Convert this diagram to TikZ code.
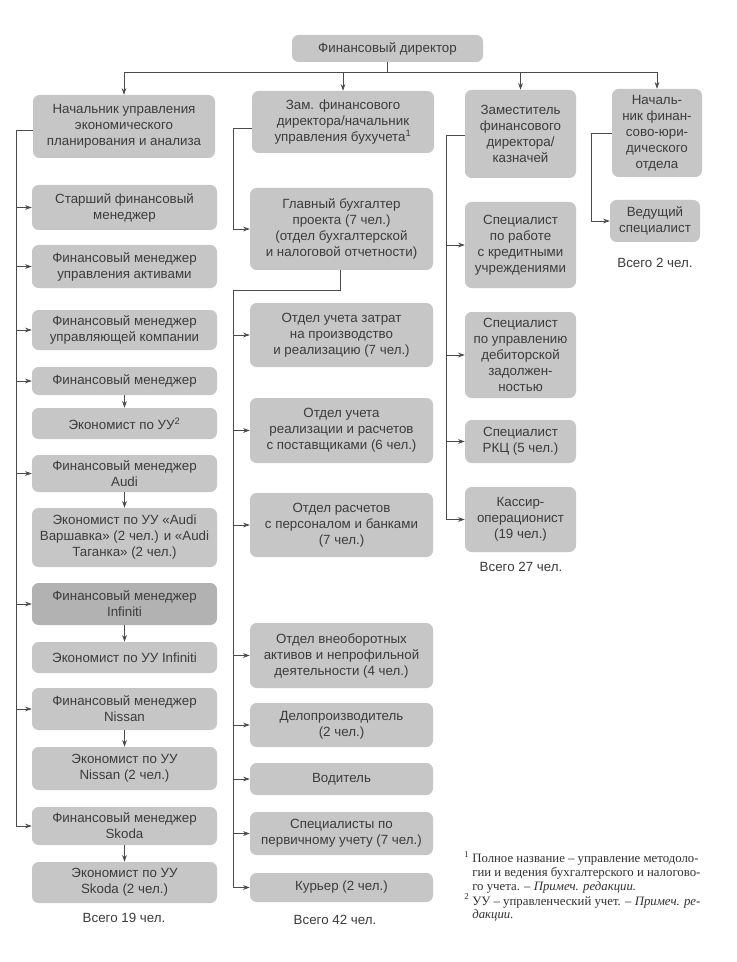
\documentclass[tikz,border=0pt]{standalone}
\usepackage{fontspec}
\setmainfont{Liberation Sans}
\newfontfamily\notefont{Liberation Serif}
\usetikzlibrary{arrows.meta}
\definecolor{boxgray}{RGB}{198,198,198}
\definecolor{boxdark}{RGB}{178,178,178}
\definecolor{txt}{RGB}{60,60,60}
\definecolor{ln}{RGB}{75,75,75}
\begin{document}
\begin{tikzpicture}[x=0.75pt,y=-0.75pt,
 box/.style={fill=boxgray, rounded corners=5pt, align=center, inner sep=1pt, text=txt, font=\fontsize{10}{12}\selectfont},
 sz/.style 2 args={minimum width=#1*0.75pt, minimum height=#2*0.75pt},
 conn/.style={draw=ln, line width=0.5pt},
 arr/.style={conn, -{Stealth[length=5pt,width=3.5pt]}},
 total/.style={text=txt, font=\fontsize{10}{12}\selectfont},
 note/.style={anchor=west, inner sep=0pt, text=txt!80!black, font=\notefont\fontsize{9.6}{11}\selectfont},
]
\useasboundingbox[fill=white] (0,0) rectangle (736,962);

% top
\node[box,sz={191}{27}] (dir) at (387.5,48.5) {Финансовый директор};
\node[box,sz={182}{63}] (a) at (124,126.5) {Начальник управления\\экономического\\планирования и анализа};
\node[box,sz={182}{62}] (b) at (343,122) {Зам. финансового\\директора/начальник\\управления бухучета\textsuperscript{1}};
\node[box,sz={111}{88}] (c) at (520.5,134) {Заместитель\\финансового\\директора/\\казначей};
\node[box,sz={90}{88}] (d) at (657,133) {Началь-\\ник финан-\\сово-юри-\\дического\\отдела};

\coordinate (bus) at (387.5,72);
\draw[conn] (dir.south) -- (bus);
\draw[conn] (bus -| a) -- (bus -| d);
\foreach \n in {a,b,c,d} \draw[arr] (bus -| \n) -- (\n.north);

% left column
\node[box,sz={185}{45}] (l1) at (124.5,207.5) {Старший финансовый\\менеджер};
\node[box,sz={185}{43}] (l2) at (124.5,266.5) {Финансовый менеджер\\управления активами};
\node[box,sz={185}{40}] (l3) at (124.5,330) {Финансовый менеджер\\управляющей компании};
\node[box,sz={185}{28}] (l4) at (124.5,381) {Финансовый менеджер};
\node[box,sz={185}{31}] (l5) at (124.5,423.5) {Экономист по УУ\textsuperscript{2}};
\node[box,sz={185}{37}] (l6) at (124.5,473.5) {Финансовый менеджер\\Audi};
\node[box,sz={185}{59}] (l7) at (124.5,537.5) {Экономист по УУ «Audi\\Варшавка» (2 чел.) и «Audi\\Таганка» (2 чел.)};
\node[box,sz={185}{42},fill=boxdark] (l8) at (124.5,604) {Финансовый менеджер\\Infiniti};
\node[box,sz={185}{31}] (l9) at (124.5,657.5) {Экономист по УУ Infiniti};
\node[box,sz={185}{42}] (l10) at (124.5,709) {Финансовый менеджер\\Nissan};
\node[box,sz={185}{43}] (l11) at (124.5,768.5) {Экономист по УУ\\Nissan (2 чел.)};
\node[box,sz={185}{38}] (l12) at (124.5,826) {Финансовый менеджер\\Skoda};
\node[box,sz={185}{41}] (l13) at (124.5,882.5) {Экономист по УУ\\Skoda (2 чел.)};
\node[total] (t19) at (124,918) {Всего 19 чел.};

\coordinate (ls) at (16,130);
\draw[conn] (a.west |- ls) -- (ls) -- (ls |- l12.west);
\foreach \n in {l1,l2,l3,l4,l6,l8,l10,l12} \draw[arr] (ls |- \n.west) -- (\n.west);
\foreach \p/\q in {l4/l5,l6/l7,l8/l9,l10/l11,l12/l13} \draw[arr] (\p.south) -- (\q.north);

% middle column
\node[box,sz={183}{82}] (g) at (341.5,229) {Главный бухгалтер\\проекта (7 чел.)\\(отдел бухгалтерской\\и налоговой отчетности)};
\node[box,sz={183}{64}] (m1) at (341.5,335) {Отдел учета затрат\\на производство\\и реализацию (7 чел.)};
\node[box,sz={183}{65}] (m2) at (341.5,430.5) {Отдел учета\\реализации и расчетов\\с поставщиками (6 чел.)};
\node[box,sz={183}{64}] (m3) at (341.5,525) {Отдел расчетов\\с персоналом и банками\\(7 чел.)};
\node[box,sz={183}{65}] (m4) at (341.5,655.5) {Отдел внеоборотных\\активов и непрофильной\\деятельности (4 чел.)};
\node[box,sz={183}{44}] (m5) at (341.5,725) {Делопроизводитель\\(2 чел.)};
\node[box,sz={183}{32}] (m6) at (341.5,779) {Водитель};
\node[box,sz={183}{43}] (m7) at (341.5,833.5) {Специалисты по\\первичному учету (7 чел.)};
\node[box,sz={183}{29}] (m8) at (341.5,887.5) {Курьер (2 чел.)};
\node[total] (t42) at (335,920) {Всего 42 чел.};

\coordinate (ms) at (233,128);
\draw[conn] (b.west |- ms) -- (ms);
\draw[arr] (ms) -- (ms |- g.west) -- (g.west);
\coordinate (mk) at (340,290);
\coordinate (ms2) at (233,290);
\draw[conn] (g.south -| mk) -- (mk) -- (ms2) -- (ms2 |- m8.west);
\foreach \n in {m1,m2,m3,m4,m5,m6,m7,m8} \draw[arr] (ms2 |- \n.west) -- (\n.west);

% third column
\node[box,sz={111}{86}] (c1) at (520.5,245) {Специалист\\по работе\\с кредитными\\учреждениями};
\node[box,sz={111}{86}] (c2) at (520.5,355) {Специалист\\по управлению\\дебиторской\\задолжен-\\ностью};
\node[box,sz={111}{43}] (c3) at (520.5,441.5) {Специалист\\РКЦ (5 чел.)};
\node[box,sz={111}{65}] (c4) at (520.5,519.5) {Кассир-\\операционист\\(19 чел.)};
\node[total] (t27) at (521,567) {Всего 27 чел.};

\coordinate (cs) at (446,135);
\draw[conn] (c.west |- cs) -- (cs) -- (cs |- c4.west);
\foreach \n in {c1,c2,c3,c4} \draw[arr] (cs |- \n.west) -- (\n.west);

% fourth column
\node[box,sz={90}{42}] (v) at (655,221) {Ведущий\\специалист};
\node[total] (t2) at (655,263) {Всего 2 чел.};
\coordinate (fs) at (591,133);
\draw[arr] (d.west |- fs) -- (fs) -- (fs |- v.west) -- (v.west);

% footnotes
\node[note] (f1m) at (464,857) {\textsuperscript{1}};
\node[note] (f1a) at (472,860) {Полное название – управление методоло-};
\node[note] (f1b) at (472,873.5) {гии и ведения бухгалтерского и налогово-};
\node[note] (f1c) at (472,887) {го учета. – \textit{Примеч. редакции.}};
\node[note] (f2m) at (464,899) {\textsuperscript{2}};
\node[note] (f2a) at (472,902) {УУ – управленческий учет. – \textit{Примеч. ре-}};
\node[note] (f2b) at (472,915.5) {\textit{дакции.}};
\end{tikzpicture}
\end{document}
